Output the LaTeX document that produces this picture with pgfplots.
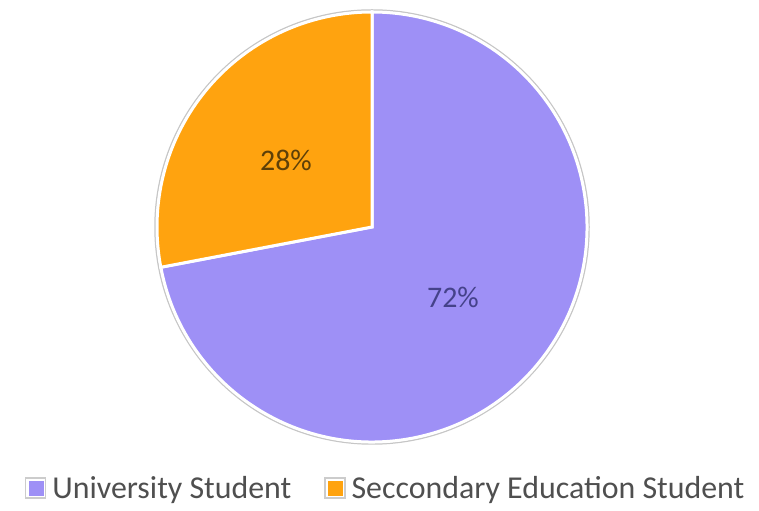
\documentclass[border=0pt]{standalone}
\usepackage{pgfplots}
\usepackage{pgfplotstable}
\pgfplotsset{compat=1.18}
\usepackage{fontspec}
\setmainfont{Carlito}
\definecolor{uni}{HTML}{9E90F6}
\definecolor{sec}{HTML}{FFA30F}
\definecolor{txt}{HTML}{4F4F4F}
\definecolor{labS}{HTML}{5E4008}
\definecolor{labU}{HTML}{45428A}
\pgfplotstableread{
label value
University 72
Secondary 28
}\piedata
\begin{document}
\begin{tikzpicture}
\pgfplotstablegetelem{0}{value}\of\piedata \let\valU\pgfplotsretval
\pgfplotstablegetelem{1}{value}\of\piedata \let\valS\pgfplotsretval
\pgfmathsetmacro\angS{90+3.6*\valS}
\begin{axis}[hide axis, scale only axis, width=759bp, height=511bp,
  xmin=0, xmax=759, ymin=0, ymax=511, clip=false,
  legend columns=2,
  legend style={at={(axis cs:25,23)}, anchor=west, draw=none, fill=none,
    font=\fontsize{32}{35}\selectfont, text=txt,
    /tikz/every even column/.append style={column sep=33bp},
    /tikz/every odd column/.append style={column sep=6bp},
    inner sep=0pt, nodes={inner sep=0pt}},
  legend image code/.code={
    \draw[draw=gray!40, fill=white, line width=1.2bp] (0bp,-10bp) rectangle (20bp,10bp);
    \fill[#1] (3bp,-7bp) rectangle (17bp,7bp);},
]
\addlegendimage{uni}
\addlegendentry{University Student}
\addlegendimage{sec}
\addlegendentry{Seccondary Education Student}
\path (axis cs:0,0) rectangle (axis cs:759,511);
\draw[gray!45, line width=1.5bp] (axis cs:372,284) circle[radius=217bp];
\fill[uni, draw=white, line width=3bp] (axis cs:372,284) -- ++(\angS:215bp) arc[start angle=\angS, end angle=450, radius=215bp] -- cycle;
\fill[sec, draw=white, line width=3bp] (axis cs:372,284) -- ++(90:215bp) arc[start angle=90, end angle=\angS, radius=215bp] -- cycle;
\node[text=labS, font=\fontsize{30}{32}\selectfont] at (axis cs:286,351) {\valS\%};
\node[text=labU, font=\fontsize{30}{32}\selectfont] at (axis cs:453,214) {\valU\%};
\end{axis}
\end{tikzpicture}
\end{document}
